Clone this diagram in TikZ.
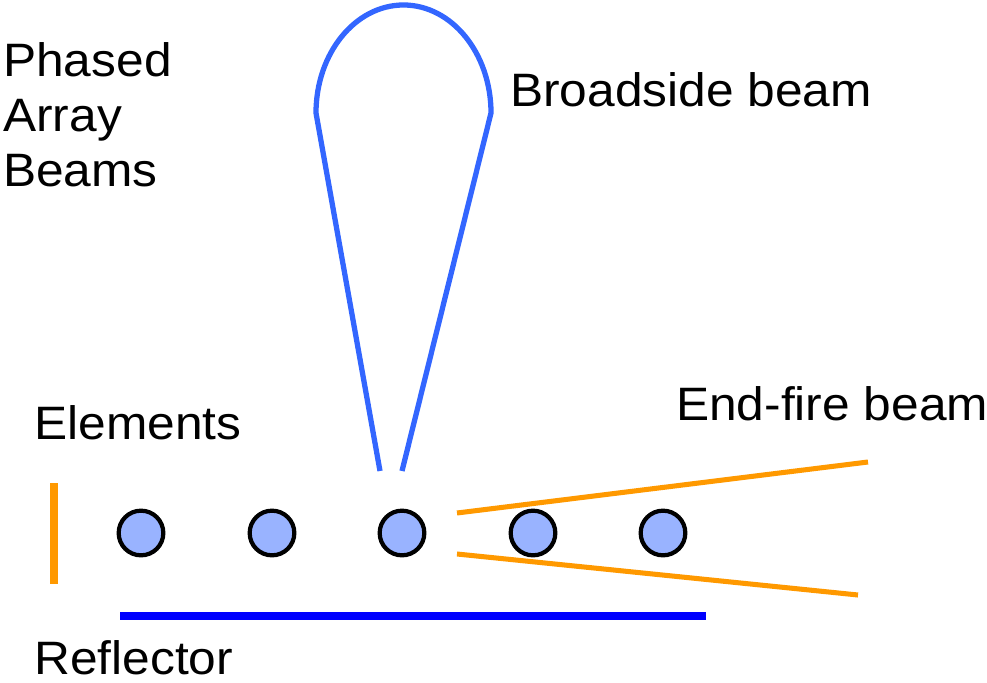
\documentclass[tikz,border=0pt]{standalone}
\usepackage{fontspec}
\setmainfont[FakeStretch=1.06]{Liberation Sans}
\usepackage{xcolor}
\definecolor{beamblue}{RGB}{51,102,255}
\definecolor{reflblue}{RGB}{0,0,255}
\definecolor{fireorange}{RGB}{255,153,0}
\definecolor{elemfill}{RGB}{153,179,255}
\usetikzlibrary{positioning}
\tikzset{
  element/.style={circle, draw=black, fill=elemfill, line width=3.6pt,
    minimum size=1.34cm, inner sep=0pt},
  captext/.style={font=\fontsize{40}{47}\selectfont, anchor=base west,
    inner sep=0pt, align=left},
  beamline/.style={draw=beamblue, line width=4.5pt, line join=round},
  fireline/.style={draw=fireorange, line width=4.3pt},
  reflline/.style={draw=reflblue, line width=6pt}
}

\begin{document}
\begin{tikzpicture}[x=0.03cm, y=-0.03cm]
  \useasboundingbox (0,0) rectangle (987,683);

  % Array elements
  \foreach \i/\x in {1/141, 2/272, 3/402, 4/533, 5/663}
    \node[element] (e\i) at (\x,533) {};

  % Broadside beam
  \coordinate (bl) at (380,471);
  \coordinate (br) at (402,471);
  \draw[beamline] (bl) -- (316,113)
    arc[start angle=180, end angle=0, x radius=2.625cm, y radius=3.24cm]
    -- (br);

  % End-fire beam
  \coordinate (fu) at (457,513);
  \coordinate (fd) at (457,554);
  \coordinate (fu2) at (868,462);
  \coordinate (fd2) at (858,595);
  \draw[fireline] (fu) -- (fu2);
  \draw[fireline] (fd) -- (fd2);
  \draw[fireline, line width=6pt] (54,483) -- (54,584);

  % Reflector
  \coordinate (ra) at (120,616);
  \coordinate (rb) at (706,616);
  \draw[reflline] (ra) -- (rb);

  % Labels
  \node[captext] (title) at (3,187) {Phased\\Array\\Beams};
  \node[captext] (broad) at (510,107) {Broadside beam};
  \node[captext] (endf) at (676,420) {End-fire beam};
  \node[captext] (elems) at (34,439) {Elements};
  \node[captext] (refl) at (34,674) {Reflector};
\end{tikzpicture}
\end{document}
